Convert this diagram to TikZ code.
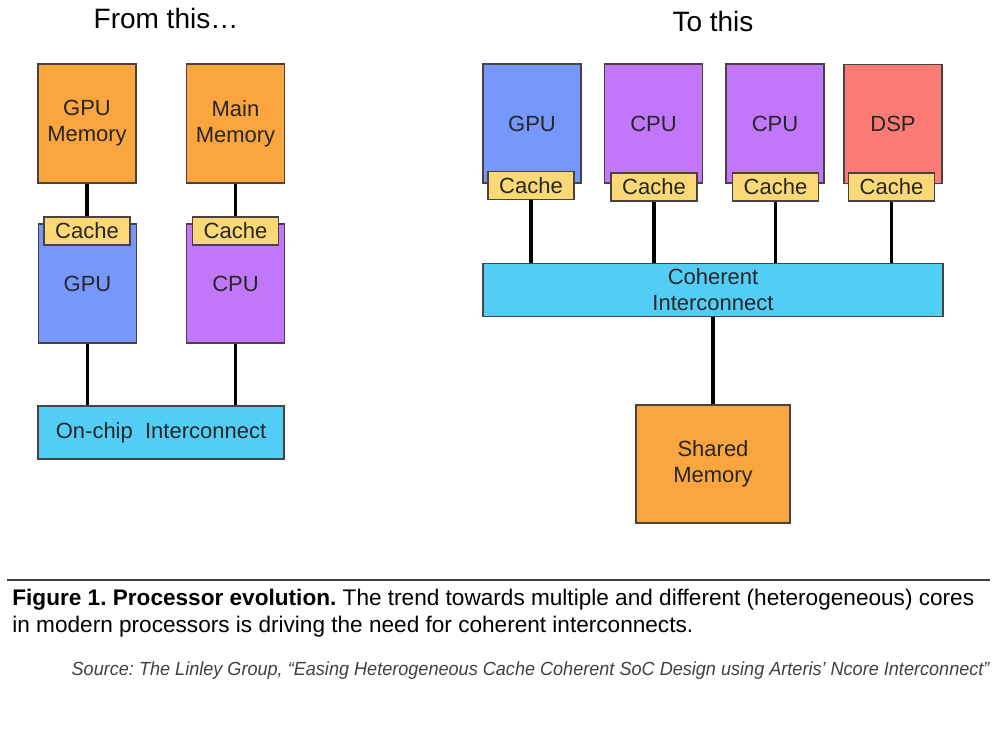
\documentclass[tikz,border=0pt]{standalone}
\usepackage{fontspec}
\setmainfont{Liberation Sans}
\newfontfamily\srcfont[FakeStretch=0.952]{Liberation Sans}
\usepackage{xcolor}
\usepackage{tikz}
\usetikzlibrary{positioning}
\frenchspacing

\definecolor{memorange}{RGB}{250,165,62}
\definecolor{gpublue}{RGB}{118,152,252}
\definecolor{cpupurple}{RGB}{194,118,250}
\definecolor{dspred}{RGB}{252,122,116}
\definecolor{cacheyellow}{RGB}{250,216,118}
\definecolor{buscyan}{RGB}{82,206,246}
\definecolor{edgegray}{RGB}{75,65,65}

\tikzset{
	blk/.style={draw=edgegray,line width=0.6pt,minimum width=49pt,minimum height=59.5pt,inner sep=0pt,align=center,font=\fontsize{11}{13}\selectfont,text=black!85},
	cachebox/.style={blk,fill=cacheyellow,minimum width=43pt,minimum height=14pt},
	bus/.style={blk,fill=buscyan,minimum height=26.5pt},
	wire/.style={line width=1.8pt}
}

\begin{document}
\begin{tikzpicture}[x=0.5pt,y=-0.5pt]
			\useasboundingbox (0,0) rectangle (1000,739);
			
			\node[font=\fontsize{14}{16}\selectfont,anchor=base,inner sep=0pt] (from) at (166,28) {From this…};
			\node[font=\fontsize{14}{16}\selectfont,anchor=base,inner sep=0pt] (to) at (713,32) {To this};
			
			\node[blk,fill=memorange] (gpumem) at (87,123.5) {GPU\\Memory};
			\node[blk,fill=memorange] (mainmem) at (235.5,123.5) {Main\\Memory};
			\node[blk,fill=gpublue] (gpuL) at (87.5,283.5) {GPU};
			\node[blk,fill=cpupurple] (cpuL) at (235.5,283.5) {CPU};
			\node[cachebox] (cacheL1) at (87,231) {Cache};
			\node[cachebox] (cacheL2) at (235.5,231) {Cache};
			\node[bus,minimum width=123pt] (onchip) at (161,432.5) {On-chip\ \ Interconnect};
			
			\draw[wire] (gpumem) -- (cacheL1);
			\draw[wire] (mainmem) -- (cacheL2);
			\draw[wire] (gpuL.south) -- (gpuL.south |- onchip.north);
			\draw[wire] (cpuL.south) -- (cpuL.south |- onchip.north);
			
			\node[blk,fill=gpublue] (gpuR) at (532,123.5) {GPU};
			\node[blk,fill=cpupurple] (cpuR1) at (653.5,123.5) {CPU};
			\node[blk,fill=cpupurple] (cpuR2) at (775,123.5) {CPU};
			\node[blk,fill=dspred] (dsp) at (893,124) {DSP};
			\node[cachebox] (cacheR1) at (531,185.5) {Cache};
			\node[cachebox] (cacheR2) at (654,187) {Cache};
			\node[cachebox] (cacheR3) at (775.5,187) {Cache};
			\node[cachebox] (cacheR4) at (891.5,187) {Cache};
			\node[bus,minimum width=230pt] (coherent) at (713,290) {Coherent\\Interconnect};
			\node[blk,fill=memorange,minimum width=77pt,minimum height=59pt] (shared) at (713,464) {Shared\\Memory};
			
			\draw[wire] (cacheR1.south) -- (cacheR1.south |- coherent.north);
			\draw[wire] (cacheR2.south) -- (cacheR2.south |- coherent.north);
			\draw[wire] (cacheR3.south) -- (cacheR3.south |- coherent.north);
			\draw[wire] (cacheR4.south) -- (cacheR4.south |- coherent.north);
			\draw[wire] (coherent) -- (shared);
			
			\draw[line width=0.8pt,black!75] (7,580) -- (990,580);
			\node[font=\fontsize{11.3}{13.5}\selectfont,anchor=base west,inner sep=0pt] (capA) at (12,605) {\textbf{Figure 1. Processor evolution.} The trend towards multiple and different (heterogeneous) cores};
			\node[font=\fontsize{11.3}{13.5}\selectfont,anchor=base west,inner sep=0pt] (capB) at (12,632) {in modern processors is driving the need for coherent interconnects.};
			\node[font=\fontsize{9.5}{11}\srcfont\itshape,text=black!75,anchor=base east,inner sep=0pt] (source) at (990,675) {Source: The Linley Group, “Easing Heterogeneous Cache Coherent SoC Design using Arteris’ Ncore Interconnect”};
			
		\end{tikzpicture}
\end{document}
